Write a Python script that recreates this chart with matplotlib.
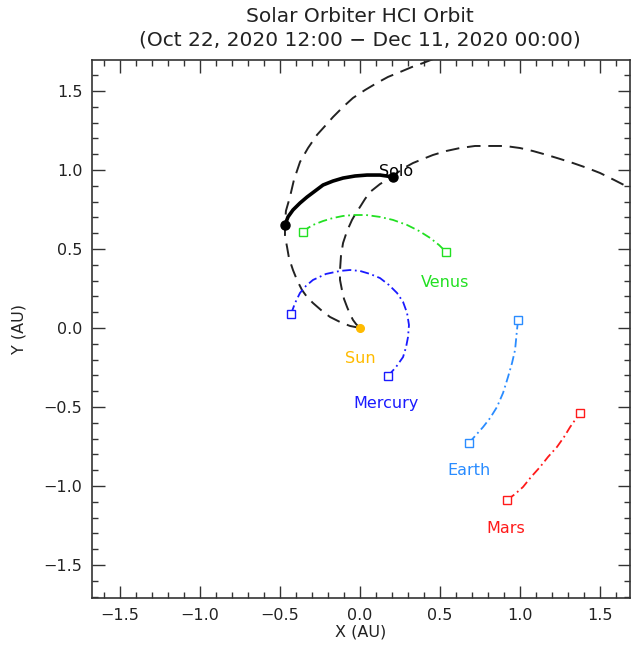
import numpy as np
import matplotlib
matplotlib.use("Agg")
import matplotlib.pyplot as plt
from matplotlib.ticker import MultipleLocator

# Solar Orbiter path (solid, during the interval) and the dashed arcs before/after
solo_x = [-0.469, -0.45, -0.419, -0.375, -0.331, -0.281, -0.231, -0.169, -0.106,
          -0.031, 0.044, 0.125, 0.206]
solo_y = [0.652, 0.703, 0.747, 0.791, 0.829, 0.867, 0.905, 0.930, 0.949,
          0.962, 0.968, 0.968, 0.956]

arcA_x = [0.0, -0.063, -0.125, -0.188, -0.244, -0.294, -0.331, -0.363, -0.394,
          -0.419, -0.444, -0.456, -0.469, -0.469, -0.463, -0.438, -0.413, -0.375,
          -0.325, -0.269, -0.219, -0.169, -0.106, -0.044, 0.031, 0.106, 0.175,
          0.25, 0.325, 0.394, 0.475]
arcA_y = [0.0, 0.013, 0.038, 0.070, 0.114, 0.158, 0.196, 0.241, 0.304,
          0.367, 0.443, 0.513, 0.582, 0.652, 0.741, 0.829, 0.937, 1.051,
          1.139, 1.222, 1.278, 1.335, 1.399, 1.456, 1.506, 1.551, 1.589,
          1.620, 1.652, 1.677, 1.709]

arcB_x = [0.0, -0.025, -0.044, -0.063, -0.081, -0.1, -0.113, -0.125, -0.125,
          -0.119, -0.106, -0.081, -0.05, -0.025, 0.0, 0.031, 0.063, 0.125, 0.2,
          0.263, 0.331, 0.394, 0.456, 0.538, 0.625, 0.719, 0.813, 0.906, 1.0,
          1.081, 1.169, 1.25, 1.331, 1.419, 1.5, 1.588, 1.675, 1.75]
arcB_y = [0.0, 0.025, 0.051, 0.089, 0.133, 0.184, 0.241, 0.304, 0.367,
          0.456, 0.538, 0.614, 0.684, 0.728, 0.766, 0.816, 0.861, 0.911, 0.956,
          1.006, 1.044, 1.070, 1.095, 1.120, 1.139, 1.152, 1.152, 1.152, 1.139,
          1.120, 1.095, 1.070, 1.044, 1.013, 0.981, 0.937, 0.892, 0.854]

# planets
mercury_x = [-0.431, -0.406, -0.375, -0.338, -0.294, -0.213, -0.125, -0.063, 0.0,
             0.063, 0.125, 0.181, 0.231, 0.269, 0.294, 0.306, 0.300, 0.288, 0.269,
             0.225, 0.175]
mercury_y = [0.089, 0.158, 0.222, 0.266, 0.304, 0.342, 0.361, 0.367, 0.361,
             0.342, 0.316, 0.272, 0.222, 0.165, 0.095, 0.019, -0.057, -0.120, -0.184,
             -0.247, -0.304]

venus_x = [-0.356, -0.325, -0.294, -0.231, -0.169, -0.106, -0.044, 0.038, 0.125,
           0.206, 0.294, 0.369, 0.438, 0.494, 0.538]
venus_y = [0.608, 0.633, 0.652, 0.677, 0.696, 0.709, 0.715, 0.715, 0.703,
           0.684, 0.652, 0.614, 0.570, 0.525, 0.481]

earth_x = [0.681, 0.725, 0.769, 0.813, 0.856, 0.894, 0.925, 0.950, 0.969, 0.975, 0.981, 0.988]
earth_y = [-0.728, -0.677, -0.627, -0.570, -0.500, -0.411, -0.310, -0.222, -0.139,
           -0.076, -0.013, 0.051]

mars_x = [0.919, 0.969, 1.019, 1.069, 1.125, 1.175, 1.231, 1.275, 1.313, 1.344, 1.375]
mars_y = [-1.089, -1.051, -1.006, -0.943, -0.880, -0.816, -0.753, -0.690, -0.627,
          -0.582, -0.538]

planets = [
    ("Mercury", mercury_x, mercury_y, "#1a1aff", (0.165, -0.48)),
    ("Venus", venus_x, venus_y, "#22e022", (0.53, 0.29)),
    ("Earth", earth_x, earth_y, "#2a8cff", (0.68, -0.90)),
    ("Mars", mars_x, mars_y, "#ff1a1a", (0.91, -1.27)),
]

fig = plt.figure(figsize=(6.38, 6.51), dpi=100)
ax = fig.add_axes([0.1442, 0.0814, 0.8433, 0.8264])

ax.plot(arcA_x, arcA_y, color="#222222", lw=1.4, dashes=(7, 4))
ax.plot(arcB_x, arcB_y, color="#222222", lw=1.4, dashes=(7, 4))
ax.plot(solo_x, solo_y, color="black", lw=2.6, solid_capstyle="round")
ax.plot([solo_x[0], solo_x[-1]], [solo_y[0], solo_y[-1]], "o", color="black", ms=6.5)
ax.text(0.225, 0.99, "Solo", color="black", fontsize=11.5, ha="center", va="center")

ax.plot([0], [0], "o", color="#ffbb00", ms=5.5)
ax.text(0.0, -0.19, "Sun", color="#ffbb00", fontsize=11.5, ha="center", va="center")

for name, px, py, col, (lx, ly) in planets:
    ax.plot(px, py, color=col, lw=1.3, dashes=(5, 2, 1, 2))
    ax.plot([px[0], px[-1]], [py[0], py[-1]], "s", mfc="white", mec=col, ms=5.5, mew=1.0)
    ax.text(lx, ly, name, color=col, fontsize=11.5, ha="center", va="center")

ax.set_xlim(-1.675, 1.6875)
ax.set_ylim(-1.709, 1.696)
ax.xaxis.set_major_locator(MultipleLocator(0.5))
ax.yaxis.set_major_locator(MultipleLocator(0.5))
ax.xaxis.set_minor_locator(MultipleLocator(0.1))
ax.yaxis.set_minor_locator(MultipleLocator(0.1))
ax.tick_params(which="both", direction="in", top=True, right=True, color="#333333")
ax.tick_params(which="major", length=9, width=1.0, labelsize=11.5, pad=7, labelcolor="#222222")
ax.tick_params(which="minor", length=4.5, width=1.0)
ax.xaxis.set_major_formatter(plt.FuncFormatter(lambda v, p: f"{v:.1f}".replace("-", "\u2212")))
ax.yaxis.set_major_formatter(plt.FuncFormatter(lambda v, p: f"{v:.1f}".replace("-", "\u2212")))
for s in ax.spines.values():
    s.set_linewidth(1.2)
    s.set_color("#333333")

ax.set_xlabel("X (AU)", fontsize=11.5, color="#222222", labelpad=1)
ax.set_ylabel("Y (AU)", fontsize=11.5, color="#222222", labelpad=12)
fig.text(0.5645, 0.974, "Solar Orbiter HCI Orbit", ha="center", va="center",
         fontsize=14.5, color="#222222")
fig.text(0.5645, 0.939, "(Oct 22, 2020 12:00 \u2212 Dec 11, 2020 00:00)", ha="center",
         va="center", fontsize=14.5, color="#222222")

fig.savefig("out.png", dpi=100)
